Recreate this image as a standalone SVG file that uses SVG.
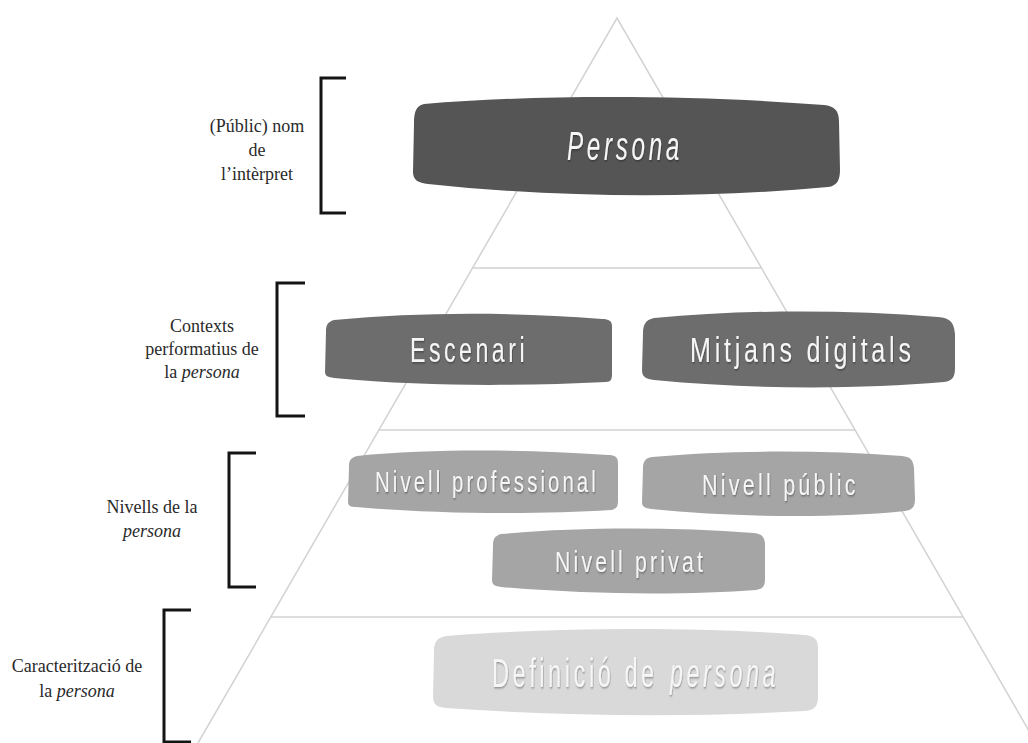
<svg xmlns="http://www.w3.org/2000/svg" width="1028" height="743" viewBox="0 0 1028 743">
<style>
.pyr{fill:none;stroke:#d2d2d2;stroke-width:1.5}
.brk{fill:none;stroke:#141414;stroke-width:3}
.lbl{font-family:"Liberation Serif","Times New Roman",serif;font-size:18px;fill:#2a2a2a;text-anchor:middle}
.it{font-style:italic}
.bt{font-family:"Liberation Sans",Arial,sans-serif;fill:#f6f6f6;letter-spacing:0.15em;filter:url(#sh)}
.b1{fill:#555555}
.b2{fill:#6d6d6d}
.b3{fill:#a5a5a5}
.b4{fill:#d9d9d9}
</style>
<defs>
<filter id="sh" x="-10%" y="-30%" width="120%" height="160%">
<feDropShadow dx="0.8" dy="1.2" stdDeviation="0.8" flood-color="#000" flood-opacity="0.4"/>
</filter>
</defs>
<rect width="1028" height="743" fill="#ffffff"/>
<g id="pyramid">
<path class="pyr" d="M198,743 L617,18 L1036,743"/>
<line class="pyr" x1="473" y1="268" x2="761" y2="268"/>
<line class="pyr" x1="379" y1="430" x2="855" y2="430"/>
<line class="pyr" x1="271" y1="617" x2="963" y2="617"/>
</g>
<g id="connectors"></g>
<g id="label-nom">
<path class="brk" d="M346,78 H321 V213 H346"/>
<text class="lbl" x="257" y="132">(Públic) nom</text>
<text class="lbl" x="257" y="156">de</text>
<text class="lbl" x="257" y="180">l’intèrpret</text>
</g>
<g id="label-contexts">
<path class="brk" d="M305,283 H277 V416 H305"/>
<text class="lbl" x="202" y="332">Contexts</text>
<text class="lbl" x="202" y="355">performatius de</text>
<text class="lbl" x="202" y="378">la <tspan class="it">persona</tspan></text>
</g>
<g id="label-nivells">
<path class="brk" d="M256,453 H229 V587 H256"/>
<text class="lbl" x="152" y="513">Nivells de la</text>
<text class="lbl it" x="152" y="537">persona</text>
</g>
<g id="label-caracteritzacio">
<path class="brk" d="M191,610 H164 V742 H191"/>
<text class="lbl" x="77" y="672">Caracterització de</text>
<text class="lbl" x="77" y="697">la <tspan class="it">persona</tspan></text>
</g>
<g id="node-persona">
<path class="b1" d="M424,104 C415,106 414,114 414,124 L413,172 C413,180 418,183 428,184 C560,198 700,199 828,187 C837,186 840,180 840,170 L839,122 C839,110 834,106 824,105 C700,95 540,94 424,104 Z"/>
<text class="bt it" transform="translate(567,160) scale(0.607,1)" font-size="40" textLength="191" lengthAdjust="spacingAndGlyphs">Persona</text>
</g>
<g id="node-escenari">
<path class="b2" d="M334,320 C327,322 326,326 326,332 L325,372 C325,376 328,377 334,378 C430,387 520,386 606,382 C611,382 612,379 612,374 L612,326 C612,321 609,319 602,319 C510,312 420,312 334,320 Z"/>
<text class="bt" transform="translate(410,362) scale(0.663,1)" font-size="35" textLength="178" lengthAdjust="spacingAndGlyphs">Escenari</text>
</g>
<g id="node-mitjans">
<path class="b2" d="M654,318 C645,320 643,325 643,334 L642,370 C642,377 646,379 654,380 C760,390 860,389 944,382 C953,381 955,376 955,368 L955,334 C954,321 949,318 938,317 C840,309 740,310 654,318 Z"/>
<text class="bt" transform="translate(690,362) scale(0.718,1)" font-size="35" textLength="313" lengthAdjust="spacingAndGlyphs">Mitjans digitals</text>
</g>
<g id="node-professional">
<path class="b3" d="M357,456 C350,458 349,461 349,467 L348,502 C348,506 351,507 356,507 C450,515 540,514 611,510 C617,509 618,506 618,500 L618,463 C618,457 615,455 608,455 C520,449 430,449 357,456 Z"/>
<text class="bt" transform="translate(375,492) scale(0.704,1)" font-size="29" textLength="318" lengthAdjust="spacingAndGlyphs">Nivell professional</text>
</g>
<g id="node-public">
<path class="b3" d="M652,457 C645,458 643,462 643,468 L642,502 C642,507 645,508 651,509 C740,518 840,518 905,511 C913,510 915,506 915,499 L914,468 C913,459 910,457 902,456 C820,450 730,450 652,457 Z"/>
<text class="bt" transform="translate(702,495) scale(0.743,1)" font-size="29" textLength="211" lengthAdjust="spacingAndGlyphs">Nivell públic</text>
</g>
<g id="node-privat">
<path class="b3" d="M501,534 C494,536 493,540 493,546 L492,580 C492,585 495,586 501,587 C590,595 690,595 756,590 C763,589 765,586 765,579 L765,543 C764,536 761,534 754,533 C670,527 580,527 501,534 Z"/>
<text class="bt" transform="translate(555,572) scale(0.733,1)" font-size="29" textLength="206" lengthAdjust="spacingAndGlyphs">Nivell privat</text>
</g>
<g id="node-definicio">
<path class="b4" d="M446,636 C436,638 434,643 434,652 L433,696 C433,705 437,707 446,708 C570,717 700,717 805,711 C815,710 818,706 818,697 L818,648 C818,639 814,636 805,635 C700,627 560,627 446,636 Z"/>
<text class="bt" transform="translate(492,687) scale(0.59,1)" font-size="40" textLength="281" lengthAdjust="spacingAndGlyphs">Definició de</text>
<text class="bt it" transform="translate(670,687) scale(0.57,1)" font-size="40" textLength="191" lengthAdjust="spacingAndGlyphs">persona</text>
</g>
</svg>
